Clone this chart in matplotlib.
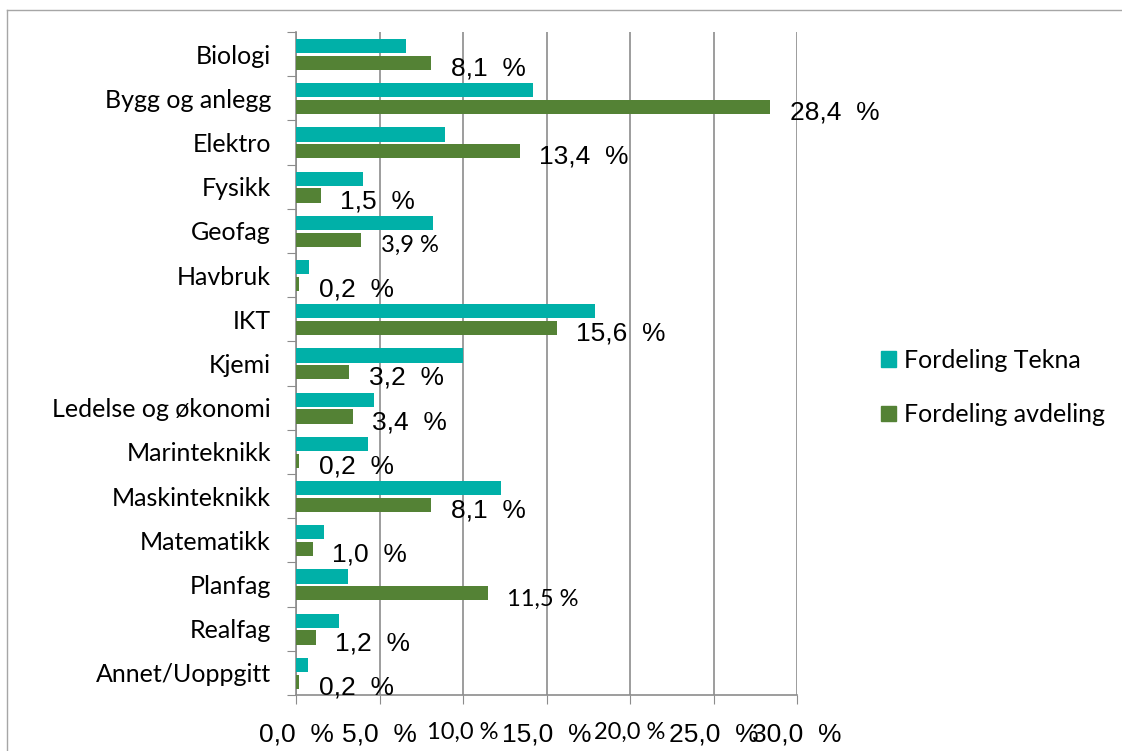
import matplotlib.pyplot as plt
import numpy as np
from matplotlib.patches import Patch
from matplotlib.lines import Line2D

# data
categories = ["Biologi", "Bygg og anlegg", "Elektro", "Fysikk", "Geofag", "Havbruk",
              "IKT", "Kjemi", "Ledelse og økonomi", "Marinteknikk", "Maskinteknikk",
              "Matematikk", "Planfag", "Realfag", "Annet/Uoppgitt"]
tekna = [6.6, 14.2, 8.9, 4.0, 8.2, 0.8, 17.9, 10.0, 4.7, 4.3, 12.3, 1.7, 3.1, 2.6, 0.7]
avdeling = [8.1, 28.4, 13.4, 1.5, 3.9, 0.2, 15.6, 3.2, 3.4, 0.2, 8.1, 1.0, 11.5, 1.2, 0.2]
small_labels = [4, 12]          # labels that were rendered in the other font
xticks = [0, 5, 10, 15, 20, 25, 30]
small_xticks = [10, 20]

teal = "#00B0A8"
green = "#548235"
grey = "#8c8c8c"
arial = "Liberation Sans"
calibri = "Lato"


def pct(v, small=False):
    s = ("%.1f" % v).replace(".", ",")
    return s + (" %" if small else "  %")


fig = plt.figure(figsize=(11.22, 7.51), dpi=100)
ax = fig.add_axes([296/1122, 1 - 695/751, (797-296)/1122, (695-32)/751])

y = np.arange(len(categories))
ax.barh(y - 0.18, tekna, height=0.32, color=teal, label="Fordeling Tekna", zorder=3)
ax.barh(y + 0.2, avdeling, height=0.32, color=green, label="Fordeling avdeling", zorder=3)

for i, v in enumerate(avdeling):
    small = i in small_labels
    ax.annotate(pct(v, small), xy=(v, y[i] + 0.2), xytext=(14, -4),
                textcoords="offset points", ha="left", va="center",
                fontsize=17 if small else 19, family=calibri if small else arial)

ax.set_xlim(0, 30)
ax.set_ylim(len(categories) - 0.5, -0.5)

# y axis: tick marks between categories, labels at centers
ax.set_yticks(np.arange(len(categories) + 1) - 0.5)
ax.set_yticklabels([])
ax.set_yticks(y, minor=True)
ax.set_yticklabels(categories, minor=True, fontsize=18, family=calibri)
ax.tick_params(axis="y", which="major", length=6.5, color=grey, direction="out")
ax.tick_params(axis="y", which="minor", length=0, pad=18)

ax.set_xticks(xticks)
ax.set_xticklabels([pct(t, t in small_xticks) for t in xticks])
for t, lab in zip(xticks, ax.get_xticklabels()):
    if t in small_xticks:
        lab.set_fontfamily(calibri)
        lab.set_fontsize(17)
    else:
        lab.set_fontfamily(arial)
        lab.set_fontsize(19)
ax.tick_params(axis="x", length=6.5, color=grey, pad=13)

ax.xaxis.grid(True, color=grey, linewidth=1.2)
ax.set_axisbelow(True)
for s in ["top", "right"]:
    ax.spines[s].set_visible(False)
for s in ["left", "bottom"]:
    ax.spines[s].set_color(grey)
    ax.spines[s].set_linewidth(1.2)

ax.legend(handles=[Patch(color=teal), Patch(color=green)],
          labels=["Fordeling Tekna", "Fordeling avdeling"],
          loc="upper left", bbox_to_anchor=(881/1122, 1 - 349/751),
          bbox_transform=fig.transFigure, frameon=False, borderpad=0,
          borderaxespad=0, handlelength=0.6, handleheight=0.6,
          handletextpad=0.3, labelspacing=1.25,
          prop={"family": calibri, "size": 18})

# outer frame of the chart area (runs off the right and bottom)
fig.add_artist(Line2D([7/1122, 7/1122], [0, 1 - 10/751], transform=fig.transFigure,
                      color="#a6a6a6", lw=1))
fig.add_artist(Line2D([7/1122, 1], [1 - 10/751, 1 - 10/751], transform=fig.transFigure,
                      color="#a6a6a6", lw=1))

fig.savefig("out.png", dpi=100)
